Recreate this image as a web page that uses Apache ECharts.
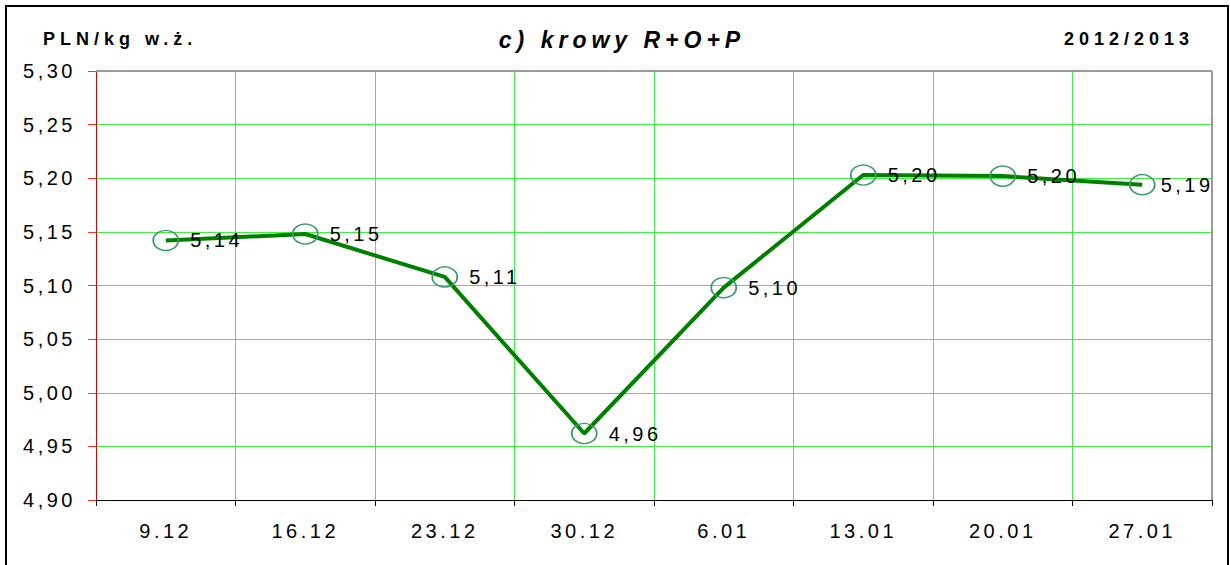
<!DOCTYPE html>
<html><head><meta charset="utf-8">
<script src="https://cdn.jsdelivr.net/npm/echarts@6/dist/echarts.min.js"></script>
<style>html,body{margin:0;padding:0;background:#fff}#c{width:1230px;height:565px}</style>
</head><body><div id="c"></div>
<script>
var categories = ['9.12','16.12','23.12','30.12','6.01','13.01','20.01','27.01'];
var prices = [5.142, 5.148, 5.108, 4.962, 5.098, 5.203, 5.202, 5.194];
var yMin = 4.90, yMax = 5.30, yStep = 0.05;
var unitText = 'PLN/kg w.ż.';
var titleText = 'c) krowy R+O+P';
var seasonText = '2012/2013';

var FONT = '"Liberation Sans", Arial, sans-serif';
var fmt = function (v) { return v.toFixed(2).replace('.', ','); };

var seriesData = prices.map(function (v, i) {
  return i === prices.length - 1 ? {value: v, label: {distance: 5}} : v;
});

var chart = echarts.init(document.getElementById('c'), null, {renderer: 'svg'});
chart.setOption({
  animation: false,
  backgroundColor: '#fff',
  grid: {left: 96, right: 18, top: 71, bottom: 65},
  graphic: [
    {type: 'rect', shape: {x: 6, y: 6, width: 1222, height: 580}, style: {fill: 'none', stroke: '#000', lineWidth: 2}, z: 0},
    {type: 'text', x: 43, y: 39, style: {text: unitText, font: 'bold 18px ' + FONT, fill: '#000', textAlign: 'left', textVerticalAlign: 'middle'}},
    {type: 'text', x: 622, y: 40, style: {text: titleText, font: 'italic bold 23px ' + FONT, fill: '#000', textAlign: 'center', textVerticalAlign: 'middle'}},
    {type: 'text', x: 1194, y: 39, style: {text: seasonText, font: 'bold 18px ' + FONT, fill: '#000', textAlign: 'right', textVerticalAlign: 'middle'}}
  ],
  xAxis: {
    type: 'category', data: categories, boundaryGap: true,
    axisLine: {show: true, lineStyle: {color: '#000', width: 1}},
    axisTick: {show: true, length: 6, lineStyle: {color: '#000'}},
    axisLabel: {color: '#000', fontSize: 20, fontFamily: FONT, margin: 21},
    splitLine: {show: true, lineStyle: {color: '#40f040', width: 1}}
  },
  yAxis: {
    type: 'value', min: yMin, max: yMax, interval: yStep,
    axisLine: {show: true, lineStyle: {color: '#e00000', width: 1}},
    axisTick: {show: true, length: 8, lineStyle: {color: '#ff3030'}},
    axisLabel: {color: '#000', fontSize: 20, fontFamily: FONT, margin: 20, formatter: fmt},
    splitLine: {show: true, lineStyle: {color: '#40f040', width: 1}}
  },
  series: [
    {type: 'line', data: seriesData, symbol: 'circle', symbolSize: [25, 20],
     lineStyle: {color: '#008000', width: 4},
     itemStyle: {color: 'rgba(255,255,255,0)', borderColor: '#3a9a6a', borderWidth: 1.6, opacity: 1},
     label: {show: true, position: 'right', distance: 11, color: '#000', fontSize: 20, fontFamily: FONT,
       formatter: function (p) { return fmt(p.value); }},
     z: 3},
    {type: 'line', data: [], markLine: {silent: true, symbol: 'none', label: {show: false},
      lineStyle: {color: '#999', width: 2, type: 'solid'},
      data: [{yAxis: yMax}, [{x: 1212, y: 500}, {x: 1212, y: 71}]]}}
  ]
});

function spaceText() {
  var nodes = document.querySelectorAll('#c text');
  nodes.forEach(function (t) {
    var s = t.textContent;
    var sp = '3.5px';
    if (s === titleText || s === unitText || s === seasonText) sp = '5px';
    t.setAttribute('letter-spacing', sp);
    t.style.letterSpacing = sp;
  });
}
spaceText();
chart.on('finished', spaceText);
</script></body></html>
